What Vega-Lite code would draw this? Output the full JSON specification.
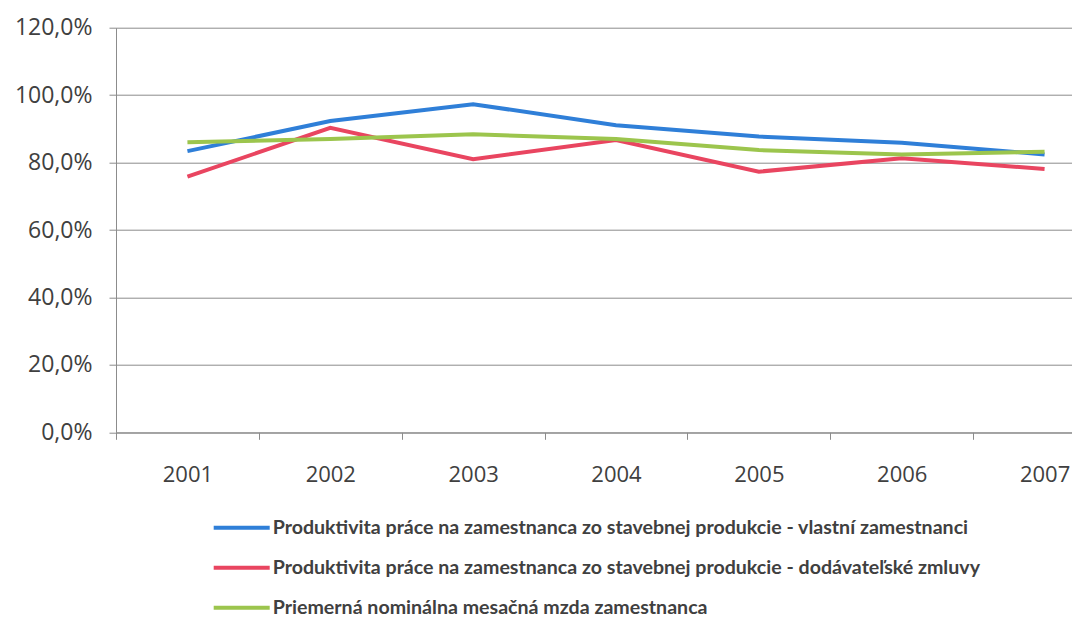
{
  "$schema": "https://vega.github.io/schema/vega-lite/v6.json",
  "width": 956,
  "height": 404.6,
  "autosize": "none",
  "padding": {"left": 116, "top": 27.7, "right": 0, "bottom": 184.7},
  "background": "white",
  "config": {"view": {"stroke": null}},
  "data": {
    "values": [
      {"year": "2001", "series": "Produktivita práce na zamestnanca zo stavebnej produkcie - vlastní zamestnanci", "value": 0.834},
      {"year": "2002", "series": "Produktivita práce na zamestnanca zo stavebnej produkcie - vlastní zamestnanci", "value": 0.923},
      {"year": "2003", "series": "Produktivita práce na zamestnanca zo stavebnej produkcie - vlastní zamestnanci", "value": 0.973},
      {"year": "2004", "series": "Produktivita práce na zamestnanca zo stavebnej produkcie - vlastní zamestnanci", "value": 0.911},
      {"year": "2005", "series": "Produktivita práce na zamestnanca zo stavebnej produkcie - vlastní zamestnanci", "value": 0.877},
      {"year": "2006", "series": "Produktivita práce na zamestnanca zo stavebnej produkcie - vlastní zamestnanci", "value": 0.859},
      {"year": "2007", "series": "Produktivita práce na zamestnanca zo stavebnej produkcie - vlastní zamestnanci", "value": 0.824},
      {"year": "2001", "series": "Produktivita práce na zamestnanca zo stavebnej produkcie - dodávateľské zmluvy", "value": 0.758},
      {"year": "2002", "series": "Produktivita práce na zamestnanca zo stavebnej produkcie - dodávateľské zmluvy", "value": 0.903},
      {"year": "2003", "series": "Produktivita práce na zamestnanca zo stavebnej produkcie - dodávateľské zmluvy", "value": 0.810},
      {"year": "2004", "series": "Produktivita práce na zamestnanca zo stavebnej produkcie - dodávateľské zmluvy", "value": 0.867},
      {"year": "2005", "series": "Produktivita práce na zamestnanca zo stavebnej produkcie - dodávateľské zmluvy", "value": 0.773},
      {"year": "2006", "series": "Produktivita práce na zamestnanca zo stavebnej produkcie - dodávateľské zmluvy", "value": 0.813},
      {"year": "2007", "series": "Produktivita práce na zamestnanca zo stavebnej produkcie - dodávateľské zmluvy", "value": 0.781},
      {"year": "2001", "series": "Priemerná nominálna mesačná mzda zamestnanca", "value": 0.860},
      {"year": "2002", "series": "Priemerná nominálna mesačná mzda zamestnanca", "value": 0.870},
      {"year": "2003", "series": "Priemerná nominálna mesačná mzda zamestnanca", "value": 0.884},
      {"year": "2004", "series": "Priemerná nominálna mesačná mzda zamestnanca", "value": 0.870},
      {"year": "2005", "series": "Priemerná nominálna mesačná mzda zamestnanca", "value": 0.837},
      {"year": "2006", "series": "Priemerná nominálna mesačná mzda zamestnanca", "value": 0.824},
      {"year": "2007", "series": "Priemerná nominálna mesačná mzda zamestnanca", "value": 0.832}
    ]
  },
  "mark": {"type": "line", "strokeWidth": 4},
  "encoding": {
    "x": {
      "field": "year",
      "type": "ordinal",
      "bandPosition": 0.5,
      "scale": {"type": "band", "range": [0, 1000], "paddingInner": 0, "paddingOuter": 0},
      "axis": {
        "title": null,
        "labelAngle": 0,
        "labelFont": "Open Sans",
        "labelFontSize": 22,
        "labelColor": "#404040",
        "labelPadding": 25,
        "tickBand": "extent",
        "tickSize": 7,
        "tickColor": "#8c8c8c",
        "domainColor": "#8c8c8c",
        "grid": false
      }
    },
    "y": {
      "field": "value",
      "type": "quantitative",
      "scale": {"domain": [0, 1.2], "nice": false},
      "axis": {
        "title": null,
        "values": [0, 0.2, 0.4, 0.6, 0.8, 1.0, 1.2],
        "labelExpr": "replace(format(datum.value, '.1%'), '.', ',')",
        "labelFont": "Open Sans",
        "labelFontSize": 23,
        "labelColor": "#404040",
        "labelPadding": 17,
        "tickSize": 7,
        "tickColor": "#8c8c8c",
        "domainColor": "#8c8c8c",
        "grid": true,
        "gridColor": "#8c8c8c",
        "gridOpacity": 1
      }
    },
    "color": {
      "field": "series",
      "type": "nominal",
      "scale": {
        "domain": [
          "Produktivita práce na zamestnanca zo stavebnej produkcie - vlastní zamestnanci",
          "Produktivita práce na zamestnanca zo stavebnej produkcie - dodávateľské zmluvy",
          "Priemerná nominálna mesačná mzda zamestnanca"
        ],
        "range": ["#2F7FD8", "#E94560", "#9CC54D"]
      },
      "legend": {
        "title": null,
        "orient": "none",
        "legendX": 95.7,
        "legendY": 470,
        "direction": "vertical",
        "padding": 0,
        "symbolType": "stroke",
        "symbolSize": 3136,
        "symbolStrokeWidth": 4,
        "labelFont": "Lato",
        "labelFontWeight": "bold",
        "labelFontSize": 19.6,
        "labelColor": "#404040",
        "labelOffset": 1,
        "labelLimit": 0,
        "rowPadding": -17
      }
    }
  }
}
